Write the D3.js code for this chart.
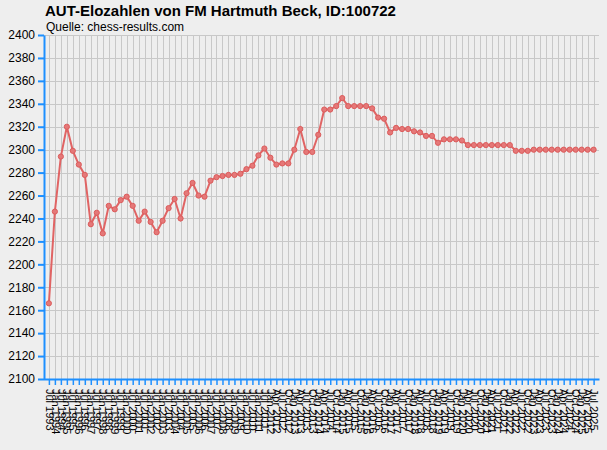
<!DOCTYPE html>
<html lang="de">
<head>
	<meta charset="UTF-8">
	<title>AUT-Elozahlen</title>
</head>
<style>
	body {
		margin: 0;
		background: #eeeeee;
	}
	.chart text {
		font-family: "Liberation Sans", Arial, sans-serif;
		fill: #000;
	}
	.chart .grid line {
		stroke: #c8c8c8;
		stroke-width: 1;
	}
	.chart .axis path,
	.chart .axis line {
		stroke: #1e90ff;
		stroke-width: 2;
	}
</style>
<body>
<svg class="chart"></svg>
<script src="https://cdn.jsdelivr.net/npm/d3@7"></script>
<script type="text/javascript">
	var title = "AUT-Elozahlen von FM Hartmuth Beck, ID:100722";
	var source = "Quelle: chess-results.com";

	var dates = [
		"Jul 1993", "Jan 1994", "Jul 1994", "Jan 1995", "Jul 1995", "Jan 1996", "Jul 1996", "Jan 1997",
		"Jul 1997", "Jan 1998", "Jul 1998", "Jan 1999", "Jul 1999", "Jan 2000", "Jul 2000", "Jan 2001",
		"Jul 2001", "Jan 2002", "Jul 2002", "Jan 2003", "Jul 2003", "Jan 2004", "Jul 2004", "Jan 2005",
		"Jul 2005", "Jan 2006", "Jul 2006", "Jan 2007", "Jul 2007", "Jan 2008", "Jul 2008", "Jan 2009",
		"Jul 2009", "Jan 2010", "Jul 2010", "Jan 2011", "Jul 2011", "Jan 2012",
		"Apr 2012", "Jul 2012", "Oct 2012", "Jan 2013", "Apr 2013", "Jul 2013", "Oct 2013", "Jan 2014",
		"Apr 2014", "Jul 2014", "Oct 2014", "Jan 2015", "Apr 2015", "Jul 2015", "Oct 2015", "Jan 2016",
		"Apr 2016", "Jul 2016", "Oct 2016", "Jan 2017", "Apr 2017", "Jul 2017", "Oct 2017", "Jan 2018",
		"Apr 2018", "Jul 2018", "Oct 2018", "Jan 2019", "Apr 2019", "Jul 2019", "Oct 2019", "Jan 2020",
		"Apr 2020", "Jul 2020", "Oct 2020", "Jan 2021", "Apr 2021", "Jul 2021", "Oct 2021", "Jan 2022",
		"Apr 2022", "Jul 2022", "Oct 2022", "Jan 2023", "Apr 2023", "Jul 2023", "Oct 2023", "Jan 2024",
		"Apr 2024", "Jul 2024", "Oct 2024", "Jan 2025", "Apr 2025", "Jul 2025"
	];

	var elo = [
		2166, 2246, 2294, 2320, 2299, 2287, 2278, 2235,
		2245, 2227, 2251, 2248, 2256, 2259, 2251, 2238,
		2246, 2237, 2228, 2238, 2249, 2257, 2240, 2262,
		2271, 2260, 2259, 2273, 2276, 2277, 2278, 2278,
		2279, 2283, 2286, 2295, 2301, 2293,
		2287, 2288, 2288, 2300, 2318, 2298, 2298, 2313,
		2335, 2335, 2338, 2345, 2338, 2338, 2338, 2338,
		2336, 2328, 2327, 2315, 2319, 2318, 2318, 2316,
		2315, 2312, 2312, 2306, 2309, 2309, 2309, 2308,
		2304, 2304, 2304, 2304, 2304, 2304, 2304, 2304,
		2299, 2299, 2299, 2300, 2300, 2300, 2300, 2300,
		2300, 2300, 2300, 2300, 2300, 2300
	];

	var yTicks = [2100, 2120, 2140, 2160, 2180, 2200, 2220, 2240, 2260, 2280,
		2300, 2320, 2340, 2360, 2380, 2400];

	var width = 607,
	    height = 450,
	    plotLeft = 43.5,
	    plotRight = 599,
	    plotTop = 35,
	    plotBottom = 379;

	var x = d3.scalePoint()
	    .domain(dates)
	    .range([plotLeft, plotRight])
	    .padding(0.9);

	var y = d3.scaleLinear()
	    .domain([2100, 2400])
	    .range([plotBottom, plotTop]);

	var svg = d3.select(".chart")
	    .attr("width", width)
	    .attr("height", height);

	svg.append("rect")
	    .attr("width", width)
	    .attr("height", height)
	    .attr("fill", "#eeeeee");

	// titles
	svg.append("text")
	    .attr("x", 45)
	    .attr("y", 16)
	    .style("font-size", "15px")
	    .style("font-weight", "bold")
	    .text(title);

	svg.append("text")
	    .attr("x", 46)
	    .attr("y", 31)
	    .style("font-size", "12px")
	    .text(source);

	// grid
	var grid = svg.append("g").attr("class", "grid");

	grid.selectAll(".h").data(yTicks)
	    .enter().append("line")
	    .attr("x1", plotLeft).attr("x2", plotRight)
	    .attr("y1", function(d) { return Math.round(y(d)) + 0.5; })
	    .attr("y2", function(d) { return Math.round(y(d)) + 0.5; });

	grid.selectAll(".v").data(dates)
	    .enter().append("line")
	    .attr("y1", plotTop).attr("y2", plotBottom)
	    .attr("x1", function(d) { return Math.round(x(d)) + 0.5; })
	    .attr("x2", function(d) { return Math.round(x(d)) + 0.5; });

	// axes
	var yAxis = svg.append("g")
	    .attr("class", "axis")
	    .attr("transform", "translate(" + (plotLeft + 0.5) + ",0)")
	    .call(d3.axisLeft(y).tickValues(yTicks).tickFormat(d3.format("d"))
	        .tickSize(6).tickSizeOuter(0).tickPadding(3));

	yAxis.selectAll("text")
	    .style("font-size", "12px");

	var xAxis = svg.append("g")
	    .attr("class", "axis")
	    .attr("transform", "translate(0," + plotBottom + ")")
	    .call(d3.axisBottom(x).tickSize(6).tickSizeOuter(0));

	xAxis.selectAll("line")
	    .style("stroke-width", 1.5);

	xAxis.selectAll("text")
	    .style("font-size", "11px")
	    .attr("text-anchor", "start")
	    .attr("transform", "rotate(90)")
	    .attr("x", 10)
	    .attr("y", 0)
	    .attr("dy", "0.35em");

	// line + markers
	var line = d3.line()
	    .x(function(d, i) { return x(dates[i]); })
	    .y(function(d) { return y(d); });

	svg.append("path")
	    .datum(elo)
	    .attr("d", line)
	    .attr("fill", "none")
	    .attr("stroke", "#e06464")
	    .attr("stroke-width", 2);

	svg.selectAll(".dot").data(elo)
	    .enter().append("circle")
	    .attr("cx", function(d, i) { return x(dates[i]); })
	    .attr("cy", function(d) { return y(d); })
	    .attr("r", 2.6)
	    .attr("fill", "#e57878")
	    .attr("stroke", "#dc5c5c")
	    .attr("stroke-width", 1);
</script>
</body>
</html>
